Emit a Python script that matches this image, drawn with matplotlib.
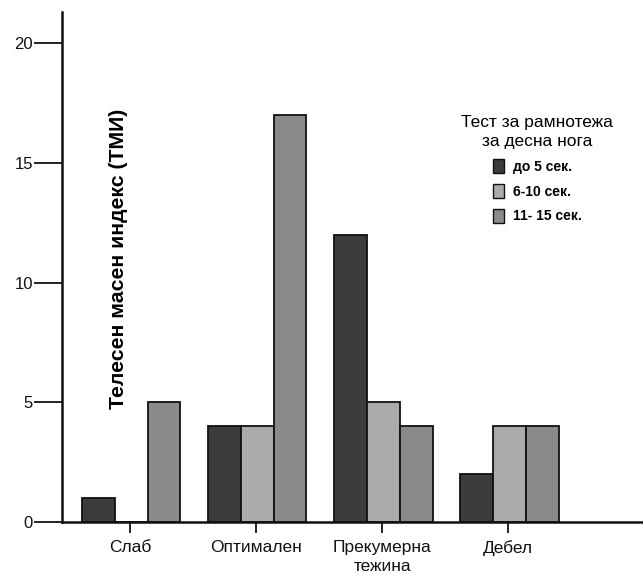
import matplotlib
matplotlib.use("Agg")
import matplotlib.pyplot as plt
import numpy as np
from matplotlib.patches import Patch

plt.rcParams['font.family'] = ['Liberation Sans', 'DejaVu Sans']

categories = ["Слаб", "Оптимален", "Прекумерна\nтежина", "Дебел"]
series_names = ["до 5 сек.", "6-10 сек.", "11- 15 сек."]
up_to_5 = [1, 4, 12, 2]
from_6_to_10 = [0, 4, 5, 4]
from_11_to_15 = [5, 17, 4, 4]
y_ticks = [0, 5, 10, 15, 20]

colors = ["#3c3c3c", "#ababab", "#8a8a8a"]

fig = plt.figure(figsize=(6.43, 5.75), dpi=100)
ax = fig.add_axes([62/643, 1 - 522/575, (643-62)/643, (522-12)/575])

x = np.arange(len(categories))
w = 0.26
for i, (vals, col) in enumerate(zip([up_to_5, from_6_to_10, from_11_to_15], colors)):
    ax.bar(x + (i - 1) * w, vals, width=w, color=col, edgecolor="#111111",
           linewidth=1.3, zorder=2)

ax.set_xlim(-0.55, 4.06)
ax.set_ylim(0, 21.3)
ax.set_yticks(y_ticks)
ax.set_yticklabels([str(t) for t in y_ticks], fontsize=12)
ax.set_xticks(x - 0.01)
ax.set_xticklabels(categories, fontsize=12.5, linespacing=1.3)

for s in ["top", "right"]:
    ax.spines[s].set_visible(False)
for s in ["left", "bottom"]:
    ax.spines[s].set_linewidth(1.8)
    ax.spines[s].set_color("#111111")
ax.tick_params(axis="y", length=20, width=1.3, pad=1, colors="#111111")
ax.tick_params(axis="x", length=8, width=1.3, pad=5, colors="#111111")

ax.text(0.097, 0.515, "Телесен масен индекс (ТМИ)", transform=ax.transAxes,
        rotation=90, ha="center", va="center", fontsize=15.3, fontweight="bold")

handles = [Patch(facecolor=c, edgecolor="#111111", linewidth=1.0) for c in colors]
leg = ax.legend(handles, series_names, title="Тест за рамнотежа\nза десна нога",
                loc="upper center", bbox_to_anchor=(0.818, 0.812), frameon=False,
                prop={"size": 10, "weight": "bold"}, title_fontsize=12.5,
                handlelength=0.8, handleheight=1.2, handletextpad=0.6,
                labelspacing=0.72, borderpad=0)
leg.get_title().set_multialignment("center")
leg.get_title().set_linespacing(1.35)
leg._legend_box.align = "center"

fig.savefig("out.png", dpi=100)
